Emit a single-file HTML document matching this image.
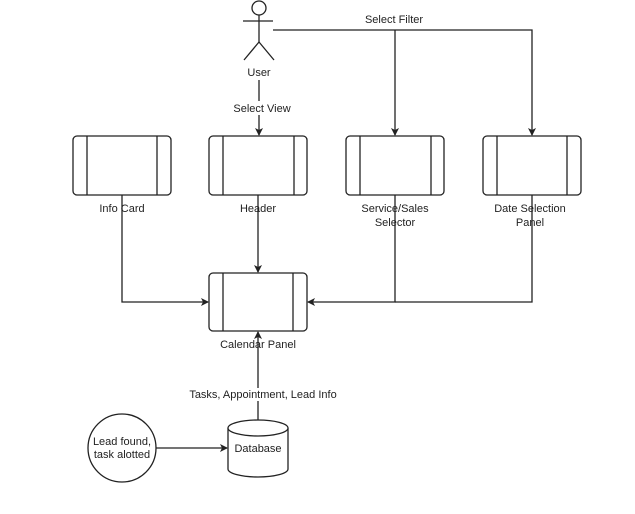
<!DOCTYPE html>
<html><head><meta charset="utf-8"><style>
html,body{margin:0;padding:0;background:#fff;}
svg{display:block;}
text{font-family:"Liberation Sans",sans-serif;font-size:11px;fill:#222;}
</style></head><body>
<svg width="635" height="514" viewBox="0 0 635 514" xmlns="http://www.w3.org/2000/svg">
<defs><marker id="a" markerWidth="8" markerHeight="8" refX="7" refY="4" orient="auto" markerUnits="userSpaceOnUse"><path d="M0,0 L8,4 L0,8 L2,4 Z" fill="#222"/></marker></defs>
<g stroke="#222" stroke-width="1.3" fill="none">
<!-- user -->
<circle cx="259" cy="8" r="7" fill="#fff"/>
<line x1="259" y1="15" x2="259" y2="42"/>
<line x1="243" y1="21" x2="273" y2="21"/>
<line x1="259" y1="42" x2="244" y2="60"/>
<line x1="259" y1="42" x2="274" y2="60"/>
<!-- boxes -->
<rect x="73" y="136" width="98" height="59" rx="4" fill="#fff"/><line x1="87" y1="136" x2="87" y2="195"/><line x1="157" y1="136" x2="157" y2="195"/>
<rect x="209" y="136" width="98" height="59" rx="4" fill="#fff"/><line x1="223" y1="136" x2="223" y2="195"/><line x1="294" y1="136" x2="294" y2="195"/>
<rect x="346" y="136" width="98" height="59" rx="4" fill="#fff"/><line x1="360" y1="136" x2="360" y2="195"/><line x1="431" y1="136" x2="431" y2="195"/>
<rect x="483" y="136" width="98" height="59" rx="4" fill="#fff"/><line x1="497" y1="136" x2="497" y2="195"/><line x1="567" y1="136" x2="567" y2="195"/>
<rect x="209" y="273" width="98" height="58" rx="4" fill="#fff"/><line x1="223" y1="273" x2="223" y2="331"/><line x1="293" y1="273" x2="293" y2="331"/>
<!-- connectors -->
<line x1="259" y1="80" x2="259" y2="135" marker-end="url(#a)"/>
<polyline points="273,30 532,30 532,135" marker-end="url(#a)"/>
<line x1="395" y1="30" x2="395" y2="135" marker-end="url(#a)"/>
<polyline points="122,195 122,302 208,302" marker-end="url(#a)"/>
<line x1="258" y1="195" x2="258" y2="272" marker-end="url(#a)"/>
<polyline points="395,195 395,302 308,302" marker-end="url(#a)"/>
<polyline points="532,195 532,302 395,302"/>
<line x1="258" y1="420" x2="258" y2="332" marker-end="url(#a)"/>
<line x1="156" y1="448" x2="227" y2="448" marker-end="url(#a)"/>
<!-- database -->
<path d="M228,428 L228,469 A30,8 0 0 0 288,469 L288,428" fill="#fff"/>
<ellipse cx="258" cy="428" rx="30" ry="8" fill="#fff"/>
<circle cx="122" cy="448" r="34" fill="#fff"/>
</g>
<g text-anchor="middle">
<rect x="355" y="12" width="78" height="13" fill="#fff"/>
<text x="394" y="23">Select Filter</text>
<text x="259" y="76">User</text>
<rect x="232" y="101" width="56" height="14" fill="#fff"/>
<text x="262" y="112">Select View</text>
<text x="122" y="212">Info Card</text>
<text x="258" y="212">Header</text>
<text x="395" y="212">Service/Sales</text>
<text x="395" y="226">Selector</text>
<text x="530" y="212">Date Selection</text>
<text x="530" y="226">Panel</text>
<text x="258" y="348">Calendar Panel</text>
<rect x="190" y="388" width="146" height="13" fill="#fff"/>
<text x="263" y="398">Tasks, Appointment, Lead Info</text>
<text x="258" y="452">Database</text>
<text x="122" y="445">Lead found,</text>
<text x="122" y="458">task alotted</text>
</g>
</svg>
</body></html>
